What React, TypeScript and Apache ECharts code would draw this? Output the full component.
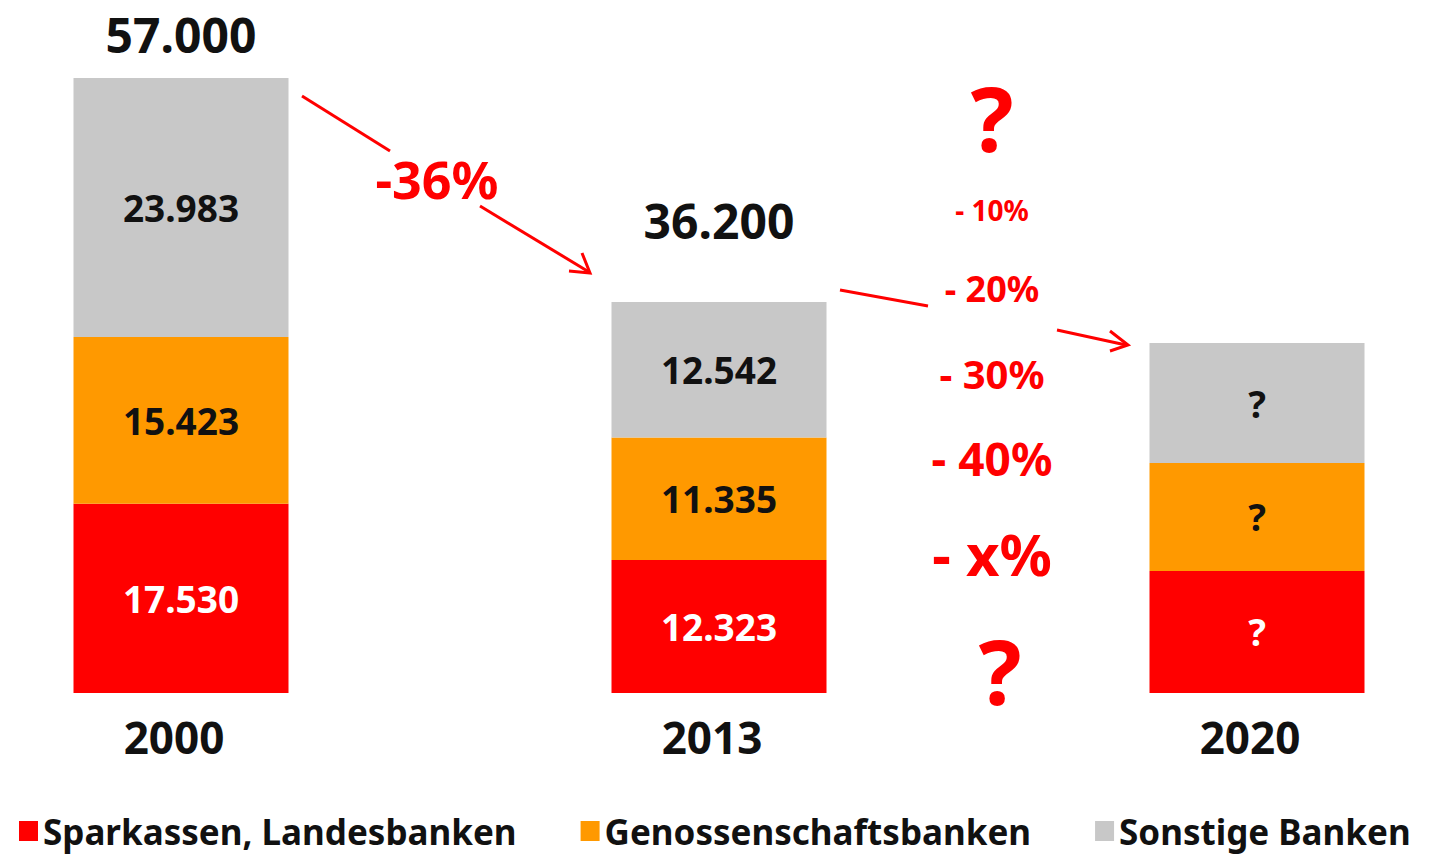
import React, { useEffect, useRef } from "react";
import * as echarts from "echarts";

const years = ["2000", "2013", "2020"];
const sparkassen = [17530, 12323, 11300];
const genossen = [15423, 11335, 10000];
const sonstige = [23983, 12542, 11100];
const totals: (number | null)[] = [57000, 36200, null];
const knownYear = [true, true, false];
const seriesNames = ["Sparkassen, Landesbanken", "Genossenschaftsbanken", "Sonstige Banken"];
const colors = ["#FF0000", "#FF9900", "#C8C8C8"];
const scenarios = ["- 10%", "- 20%", "- 30%", "- 40%", "- x%"];

const FONT = "'Noto Sans', 'DejaVu Sans', sans-serif";
const fmt = (v: number) => v.toLocaleString("de-DE");

export default function App() {
  const ref = useRef<HTMLDivElement>(null);
  useEffect(() => {
    if (!ref.current) return;
    const chart = echarts.init(ref.current, null, { renderer: "svg" });
    const mkSeries = (i: number, data: number[], textColor: string) => ({
      name: seriesNames[i],
      type: "bar",
      stack: "total",
      barWidth: 215,
      itemStyle: { color: colors[i] },
      label: {
        show: true,
        position: "inside",
        fontFamily: FONT,
        fontWeight: "bold",
        fontSize: 37,
        color: textColor,
        formatter: (p: any) => (knownYear[p.dataIndex] ? fmt(p.value) : "?"),
      },
      data,
    });
    const totalDistances = [20, 58, 0];
    const scenarioSizes = [28, 36, 40, 46, 58];
    const scenarioY = [210, 288, 373, 458, 553];
    const red = "#FF0000";
    chart.setOption({
      animation: false,
      legend: {
        data: seriesNames,
        left: 14,
        top: 807,
        itemWidth: 19,
        itemHeight: 20,
        itemGap: 64,
        icon: "rect",
        textStyle: { fontFamily: FONT, fontWeight: "bold", fontSize: 35, lineHeight: 38, color: "#111" },
      },
      grid: { left: -88, width: 1614, top: 45, bottom: 163, outerBoundsMode: "none", containLabel: false },
      xAxis: {
        type: "category",
        data: years,
        axisLine: { show: false },
        axisTick: { show: false },
        axisLabel: {
          fontFamily: FONT,
          fontWeight: "bold",
          fontSize: 44,
          color: "#111",
          margin: 22,
          padding: [0, 14, 0, 0],
        },
      },
      yAxis: { type: "value", min: 0, max: 60000, show: false, splitLine: { show: false } },
      series: [
        mkSeries(0, sparkassen, "#FFFFFF"),
        mkSeries(1, genossen, "#111111"),
        mkSeries(2, sonstige, "#111111"),
        {
          name: "Gesamt",
          type: "bar",
          stack: "total",
          barWidth: 215,
          itemStyle: { color: "transparent" },
          data: totals.map((t, i) => ({
            value: t == null ? "-" : 0,
            label: {
              show: t != null,
              position: "top",
              distance: totalDistances[i],
              fontFamily: FONT,
              fontWeight: "bold",
              fontSize: 48,
              lineHeight: 48,
              color: "#111",
              formatter: () => (t == null ? "" : fmt(t)),
            },
          })),
        },
      ],
      graphic: [
        { type: "line", shape: { x1: 302, y1: 96, x2: 390, y2: 151 }, style: { stroke: red, lineWidth: 3 } },
        {
          type: "text",
          x: 437,
          y: 178,
          style: { text: "-36%", fill: red, font: `bold 52px ${FONT}`, align: "center", verticalAlign: "middle" },
        },
        { type: "line", shape: { x1: 480, y1: 206, x2: 589, y2: 272 }, style: { stroke: red, lineWidth: 3 } },
        {
          type: "polyline",
          shape: { points: [[569, 271], [590, 273], [582, 253]] },
          style: { stroke: red, lineWidth: 3, fill: null },
        },
        { type: "line", shape: { x1: 840, y1: 290, x2: 928, y2: 306 }, style: { stroke: red, lineWidth: 3 } },
        { type: "line", shape: { x1: 1057, y1: 330, x2: 1126, y2: 345 }, style: { stroke: red, lineWidth: 3 } },
        {
          type: "polyline",
          shape: { points: [[1110, 331], [1128, 345], [1110, 351]] },
          style: { stroke: red, lineWidth: 3, fill: null },
        },
        {
          type: "text",
          x: 992,
          y: 117,
          style: { text: "?", fill: red, font: `bold 90px ${FONT}`, align: "center", verticalAlign: "middle" },
        },
        ...scenarios.map((s, i) => ({
          type: "text",
          x: 992,
          y: scenarioY[i],
          style: {
            text: s,
            fill: red,
            font: `bold ${scenarioSizes[i]}px ${FONT}`,
            align: "center",
            verticalAlign: "middle",
          },
        })),
        {
          type: "text",
          x: 1000,
          y: 670,
          style: { text: "?", fill: red, font: `bold 90px ${FONT}`, align: "center", verticalAlign: "middle" },
        },
      ],
    });
    return () => chart.dispose();
  }, []);
  return <div ref={ref} style={{ width: 1439, height: 856, position: "absolute", left: 0, top: 0 }} />;
}
